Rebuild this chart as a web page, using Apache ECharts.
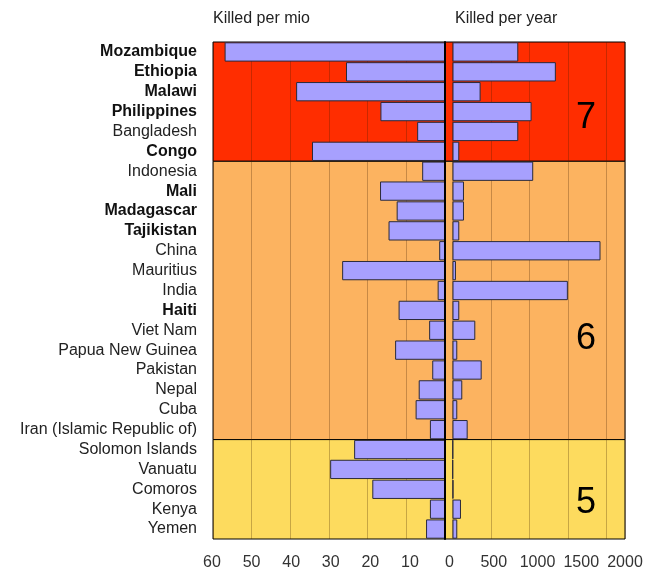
<!DOCTYPE html>
<html>
<head>
<meta charset="utf-8">
<script src="https://cdn.jsdelivr.net/npm/echarts@6/dist/echarts.min.js"></script>
<style>
  html, body { margin: 0; padding: 0; background: #fff; }
  #main { width: 657px; height: 571px; }
</style>
</head>
<body>
<div id="main"></div>
<script>
// rows, top to bottom
var countries = ['Mozambique', 'Ethiopia', 'Malawi', 'Philippines', 'Bangladesh', 'Congo',
  'Indonesia', 'Mali', 'Madagascar', 'Tajikistan', 'China', 'Mauritius', 'India', 'Haiti',
  'Viet Nam', 'Papua New Guinea', 'Pakistan', 'Nepal', 'Cuba', 'Iran (Islamic Republic of)',
  'Solomon Islands', 'Vanuatu', 'Comoros', 'Kenya', 'Yemen'];
var boldCountries = ['Mozambique', 'Ethiopia', 'Malawi', 'Philippines', 'Congo',
  'Mali', 'Madagascar', 'Tajikistan', 'Haiti'];
var magnitude = [7, 7, 7, 7, 7, 7,
  6, 6, 6, 6, 6, 6, 6, 6, 6, 6, 6, 6, 6, 6,
  5, 5, 5, 5, 5];
var killedPerMio = [57, 25.6, 38.5, 16.7, 7.2, 34.4, 5.9, 16.8, 12.5, 14.6, 1.5, 26.6, 1.9, 12,
  4.1, 12.9, 3.3, 6.8, 7.6, 3.9, 23.5, 29.7, 18.8, 3.9, 4.9];
var killedPerYear = [854, 1342, 365, 1027, 854, 88, 1048, 149, 149, 88, 1922, 45, 1498, 88,
  296, 62, 379, 127, 62, 197, 8, 6, 12, 110, 62];
var mioTicks = ['60', '50', '40', '30', '20', '10', '0'];
var yearTicks = ['500', '1000', '1500', '2000'];

var bandColors = { 7: '#ff2d00', 6: '#fcb360', 5: '#fddb5e' };
var font = "'Liberation Sans', Arial, sans-serif";

// group consecutive rows with the same magnitude into bands
var bands = [];
magnitude.forEach(function (m, i) {
  var last = bands[bands.length - 1];
  if (last && last[2] === m) last[1] = i + 1;
  else bands.push([i, i + 1, m]);
});

var myChart = echarts.init(document.getElementById('main'));

var top_ = 42, bottom_ = 32;
var gridLineStyle = { color: 'rgba(60,30,0,0.28)', width: 1 };

var option = {
  animation: false,
  textStyle: { fontFamily: font },
  title: [
    { text: 'Killed per mio', left: 213, top: 11, padding: 0,
      textStyle: { fontSize: 16, fontWeight: 'normal', color: '#222', fontFamily: font } },
    { text: 'Killed per year', left: 455, top: 11, padding: 0,
      textStyle: { fontSize: 16, fontWeight: 'normal', color: '#222', fontFamily: font } }
  ],
  grid: [
    { left: 213, right: 32, top: top_, bottom: bottom_ },      // bands
    { left: 213, width: 232, top: top_, bottom: bottom_ },     // killed per mio
    { left: 452.5, right: 32, top: top_, bottom: bottom_ },    // killed per year
    { left: 212, width: 237.5, top: top_, bottom: bottom_ },   // mio tick labels
    { left: 450, right: 32, top: top_, bottom: bottom_ }       // year tick labels
  ],
  xAxis: [
    { gridIndex: 0, type: 'value', min: 0, max: 1, show: false },
    { gridIndex: 1, type: 'value', min: 0, max: 60, interval: 10, inverse: true, z: 3,
      axisLine: { show: false }, axisTick: { show: false }, axisLabel: { show: false },
      splitLine: { show: true, lineStyle: gridLineStyle } },
    { gridIndex: 2, type: 'value', min: 0, max: 2240, interval: 500, z: 3,
      axisLine: { show: false }, axisTick: { show: false }, axisLabel: { show: false },
      splitLine: { show: true, lineStyle: gridLineStyle } },
    { gridIndex: 3, type: 'value', min: 0, max: 60, interval: 10, inverse: true,
      axisLine: { show: false }, axisTick: { show: false }, splitLine: { show: false },
      axisLabel: { margin: 17, fontSize: 16, color: '#333', fontFamily: font,
        formatter: function (v) { return mioTicks.indexOf(String(v)) >= 0 ? String(v) : ''; } } },
    { gridIndex: 4, type: 'value', min: 0, max: 2000, interval: 500,
      axisLine: { show: false }, axisTick: { show: false }, splitLine: { show: false },
      axisLabel: { margin: 17, fontSize: 16, color: '#333', fontFamily: font, showMaxLabel: true,
        formatter: function (v) { return yearTicks.indexOf(String(v)) >= 0 ? String(v) : ''; } } }
  ],
  yAxis: [
    { gridIndex: 0, type: 'value', min: 0, max: countries.length, inverse: true, show: false },
    { gridIndex: 1, type: 'category', data: countries, inverse: true, position: 'left',
      axisLine: { show: false }, axisTick: { show: false },
      axisLabel: {
        margin: 16, interval: 0,
        formatter: function (v) { return (boldCountries.indexOf(v) >= 0 ? '{b|' : '{n|') + v + '}'; },
        rich: {
          b: { fontSize: 16, fontWeight: 'bold', color: '#111', fontFamily: font },
          n: { fontSize: 16, color: '#222', fontFamily: font }
        }
      } },
    { gridIndex: 1, type: 'category', data: countries, inverse: true, position: 'right', z: 6,
      axisLine: { show: true, lineStyle: { color: '#000', width: 2 } },
      axisTick: { show: false }, axisLabel: { show: false } },
    { gridIndex: 2, type: 'category', data: countries, inverse: true, show: false },
    { gridIndex: 3, type: 'value', show: false },
    { gridIndex: 4, type: 'value', show: false }
  ],
  series: [
    {
      type: 'custom',
      xAxisIndex: 0, yAxisIndex: 0, z: 1, silent: true,
      data: bands,
      renderItem: function (params, api) {
        var p0 = api.coord([0, api.value(0)]);
        var p1 = api.coord([1, api.value(1)]);
        var h = p1[1] - p0[1];
        return {
          type: 'group',
          children: [
            { type: 'rect',
              shape: { x: p0[0], y: p0[1], width: p1[0] - p0[0], height: h },
              style: { fill: bandColors[api.value(2)], stroke: '#000', lineWidth: 1 } },
            { type: 'text', z2: 10,
              x: p1[0] - 29, y: p0[1] + h * 0.64,
              style: { text: String(api.value(2)), fill: '#000', font: '36px ' + font,
                align: 'right', verticalAlign: 'middle' } }
          ]
        };
      }
    },
    {
      name: 'Killed per mio', type: 'bar', xAxisIndex: 1, yAxisIndex: 1, z: 4,
      barCategoryGap: '3%', data: killedPerMio,
      itemStyle: { color: '#a7a0fe', borderColor: '#2a2a3a', borderWidth: 1 }
    },
    {
      name: 'Killed per year', type: 'bar', xAxisIndex: 2, yAxisIndex: 3, z: 4,
      barCategoryGap: '3%', data: killedPerYear,
      itemStyle: { color: '#a7a0fe', borderColor: '#2a2a3a', borderWidth: 1 }
    }
  ]
};

myChart.setOption(option);
</script>
</body>
</html>
